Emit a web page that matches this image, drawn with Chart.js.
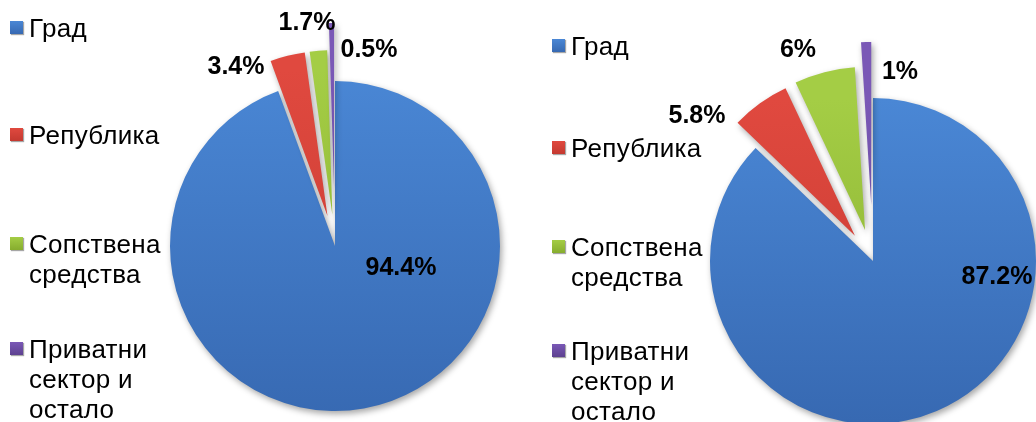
<!DOCTYPE html>
<html>
<head>
<meta charset="utf-8">
<script src="https://cdn.jsdelivr.net/npm/chart.js@4.4.0/dist/chart.umd.min.js"></script>
<style>
  body { margin: 0; background: #fff; }
  #page { position: relative; width: 1036px; height: 422px; overflow: hidden; font-family: "Liberation Sans", Arial, sans-serif; }
  #page canvas { position: absolute; top: 0; }
  .legend-item { position: absolute; font-size: 26px; line-height: 30px; letter-spacing: 0.3px; color: #000; padding-left: 19px; white-space: nowrap; }
  .legend-item .swatch { position: absolute; left: 0; top: 8px; width: 13px; height: 13px; box-shadow: 1px 1px 1px rgba(0,0,0,0.35); }
</style>
</head>
<body>
<div id="page">
  <canvas id="firstChart" width="538" height="422" style="left:0"></canvas>
  <canvas id="secondChart" width="498" height="422" style="left:538px"></canvas>
</div>
<script>
// categories (each entry = lines of the legend label)
const categories = [['Град'], ['Република'], ['Сопствена', 'средства'], ['Приватни', 'сектор и', 'остало']];
const firstValues = [94.4, 3.4, 1.7, 0.5];
const secondValues = [87.2, 5.8, 6, 1];

// styling / layout
const sliceColors = [
    ['#4a87d5', '#3769b2'],
    ['#e0493f', '#c43930'],
    ['#a4cd45', '#86ac2e'],
    ['#7a58b6', '#5d4190']
];
const charts = [
    { id: 'firstChart', values: firstValues, radius: 165, padding: { left: 132, top: 70, right: 0, bottom: 0 },
      explode: [0, 31, 31, 58],
      labelOffsets: [[66, 22], [-99, -179], [-28, -223], [34, -196]],
      legendLeft: 10, legendTops: [13, 120, 229, 334] },
    { id: 'secondChart', values: secondValues, radius: 163, padding: { left: 172, top: 100, right: 0, bottom: 0 },
      explode: [0, 31, 32, 56],
      labelOffsets: [[124, 16], [-176, -145], [-75, -211], [27, -189]],
      legendLeft: 552, legendTops: [31, 133, 232, 336] }
];

const explodePlugin = {
    id: 'explode',
    afterDatasetsUpdate(chart, args, opts) {
        const arcs = chart.getDatasetMeta(0).data;
        arcs.forEach((arc, i) => {
            const d = opts.distances[i] || 0;
            if (!d) return;
            const mid = (arc.startAngle + arc.endAngle) / 2;
            arc.x += Math.cos(mid) * d;
            arc.y += Math.sin(mid) * d;
        });
    }
};

const shadowPlugin = {
    id: 'sliceShadow',
    beforeDatasetsDraw(chart) {
        const ctx = chart.ctx;
        ctx.save();
        ctx.shadowColor = 'rgba(0,0,0,0.35)';
        ctx.shadowBlur = 6;
        ctx.shadowOffsetX = 2;
        ctx.shadowOffsetY = 3;
    },
    afterDatasetsDraw(chart) {
        chart.ctx.restore();
    }
};

const labelPlugin = {
    id: 'sliceLabels',
    afterDatasetsDraw(chart, args, opts) {
        const ctx = chart.ctx;
        const area = chart.chartArea;
        const cx = (area.left + area.right) / 2;
        const cy = (area.top + area.bottom) / 2;
        ctx.save();
        ctx.font = 'bold 25px "Liberation Sans", Arial, sans-serif';
        ctx.fillStyle = '#000';
        ctx.textAlign = 'center';
        ctx.textBaseline = 'middle';
        chart.data.datasets[0].data.forEach((v, i) => {
            const off = opts.offsets[i];
            ctx.fillText(v + '%', cx + off[0], cy + off[1]);
        });
        ctx.restore();
    }
};

function sliceFill(context) {
    const pair = sliceColors[context.dataIndex];
    const area = context.chart.chartArea;
    if (!area) return pair[0];
    const g = context.chart.ctx.createLinearGradient(0, area.top, 0, area.bottom);
    g.addColorStop(0, pair[0]);
    g.addColorStop(1, pair[1]);
    return g;
}

function buildLegend(cfg) {
    const page = document.getElementById('page');
    categories.forEach((lines, i) => {
        const item = document.createElement('div');
        item.className = 'legend-item';
        item.style.left = cfg.legendLeft + 'px';
        item.style.top = cfg.legendTops[i] + 'px';
        const sw = document.createElement('span');
        sw.className = 'swatch';
        sw.style.background = `linear-gradient(${sliceColors[i][0]}, ${sliceColors[i][1]})`;
        item.appendChild(sw);
        item.appendChild(document.createTextNode(lines[0]));
        for (let k = 1; k < lines.length; k++) {
            item.appendChild(document.createElement('br'));
            item.appendChild(document.createTextNode(lines[k]));
        }
        page.appendChild(item);
    });
}

function createPie(cfg) {
    const ctx = document.getElementById(cfg.id).getContext('2d');
    return new Chart(ctx, {
        type: 'pie',
        data: {
            labels: categories.map(l => l.join(' ')),
            datasets: [{
                data: cfg.values,
                backgroundColor: sliceFill,
                borderWidth: 0,
                radius: cfg.radius,
                clip: false
            }]
        },
        options: {
            responsive: false,
            animation: false,
            events: [],
            layout: { padding: cfg.padding },
            plugins: {
                legend: { display: false },
                tooltip: { enabled: false },
                explode: { distances: cfg.explode },
                sliceLabels: { offsets: cfg.labelOffsets }
            }
        },
        plugins: [explodePlugin, shadowPlugin, labelPlugin]
    });
}

for (const cfg of charts) {
    buildLegend(cfg);
    createPie(cfg);
}
</script>
</body>
</html>
